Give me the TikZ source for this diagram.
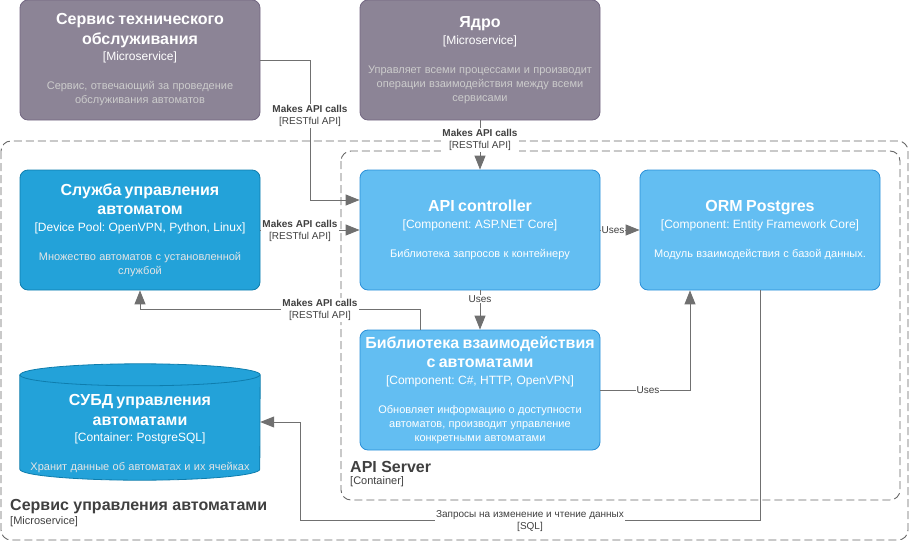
\documentclass[tikz,border=0pt]{standalone}
\usepackage{fontspec}
\setmainfont{Liberation Sans}
\usetikzlibrary{arrows.meta,positioning}
\definecolor{extfill}{HTML}{8C8496}
\definecolor{extdraw}{HTML}{736782}
\definecolor{devfill}{HTML}{23A2D9}
\definecolor{devdraw}{HTML}{0E7DAD}
\definecolor{compfill}{HTML}{63BEF2}
\definecolor{compdraw}{HTML}{2A8FD8}
\definecolor{linegray}{HTML}{707070}
\definecolor{labelgray}{HTML}{404040}
\definecolor{bordergray}{HTML}{666666}
\frenchspacing
% title, technology, description
\newcommand{\elemtext}[4][white]{{\fontsize{16}{19.5}\selectfont\bfseries #2\par}%
{\fontsize{12}{16.5}\selectfont #3\par}\vspace{15pt}%
{\fontsize{11}{14}\selectfont\color{#1}#4\par}}
\tikzset{
  element/.style={rounded corners=8pt, minimum width=240pt, minimum height=120pt,
    text width=236pt, align=center, text=white, inner sep=0pt, line width=0.8pt},
  extsys/.style={element, draw=extdraw, fill=extfill},
  devpool/.style={element, draw=devdraw, fill=devfill},
  component/.style={element, draw=compdraw, fill=compfill},
  boundary/.style={draw=bordergray, line width=0.9pt, dash pattern=on 8pt off 4pt,
    rounded corners=10pt},
  conn/.style={draw=linegray, line width=0.9pt,
    -{Triangle[length=14pt,width=11pt]}},
  lbl/.style={fill=white, text=labelgray, align=center, inner sep=1pt,
    font=\fontsize{10}{12}\selectfont}
}
\begin{document}
\begin{tikzpicture}[x=1pt, y=-1pt, node distance=10pt, on grid]
\useasboundingbox (0,0) rectangle (911,541);
% boundaries
\draw[boundary] (1,141) rectangle (908,540);
\draw[boundary] (341,151) rectangle (900,500);
\node[anchor=west, text=labelgray, inner sep=0pt, font=\fontsize{16}{19}\selectfont\bfseries]
  (svcname) at (10,507) {Сервис управления автоматами};
\node[anchor=west, text=labelgray, inner sep=0pt, font=\fontsize{11}{13}\selectfont]
  (svctype) at (10,522) {[Microservice]};
\node[anchor=west, text=labelgray, inner sep=0pt, font=\fontsize{16}{19}\selectfont\bfseries]
  (apiname) at (350,467) {API Server};
\node[anchor=west, text=labelgray, inner sep=0pt, font=\fontsize{11}{13}\selectfont]
  (apitype) at (350,482) {[Container]};

% elements
\node[extsys] (tech) at (140,60)
  {\elemtext[black!20]{Сервис технического\\обслуживания}{[Microservice]}%
  {Сервис, отвечающий за проведение\\обслуживания автоматов}};
\node[extsys] (core) [right=340pt of tech]
  {\elemtext[black!20]{Ядро}{[Microservice]}%
  {Управляет всеми процессами и производит\\операции взаимодействия между всеми\\сервисами}};
\node[component] (ctrl) [below=170pt of core]
  {\elemtext{API controller}{[Component: ASP.NET Core]}%
  {Библиотека запросов к контейнеру}};
\node[devpool] (svc) [left=340pt of ctrl]
  {\elemtext[black!10]{Служба управления\\автоматом}{[Device Pool: OpenVPN, Python, Linux]}%
  {Множество автоматов с установленной\\службой}};
\node[component] (orm) [right=280pt of ctrl]
  {\elemtext{ORM Postgres}{[Component: Entity Framework Core]}%
  {Модуль взаимодействия с базой данных.}};
\node[component] (lib) [below=160pt of ctrl]
  {\elemtext{Библиотека взаимодействия\\с автоматами}{[Component: C\#, HTTP, OpenVPN]}%
  {Обновляет информацию о доступности\\автоматов, производит управление\\конкретными автоматами}};

% database
\node[minimum width=240pt, minimum height=116pt, inner sep=0pt] (db) at (140,422) {};
\filldraw[fill=devfill, draw=devdraw, line width=0.8pt]
  ([yshift=-11pt]db.north west) -- ([yshift=11pt]db.south west)
  arc[start angle=180, end angle=360, x radius=120pt, y radius=11pt]
  -- ([yshift=-11pt]db.north east)
  arc[start angle=0, end angle=180, x radius=120pt, y radius=11pt] -- cycle;
\draw[devdraw, line width=0.8pt] ([yshift=-11pt]db.north west)
  arc[start angle=180, end angle=360, x radius=120pt, y radius=11pt];
\node[text width=236pt, align=center, text=white, inner sep=0pt] (dbtext)
  at ([yshift=-12pt]db.center)
  {{\fontsize{16}{19.5}\selectfont\bfseries СУБД управления\\автоматами\par}%
  {\fontsize{12}{16.5}\selectfont [Container: PostgreSQL]\par}\vspace{15pt}%
  {\fontsize{11}{14}\selectfont\color{black!10}Хранит данные об автоматах и их ячейках\par}};

% connectors
\draw[conn] (tech.east) -- ++(50,0) |- ([yshift=30pt]ctrl.west);
\draw[conn] (core.south) -- (ctrl.north);
\draw[conn] (svc.east) -- (ctrl.west);
\draw[conn] ([xshift=-60pt]lib.north) -- ++(0,-20) -| (svc.south);
\draw[conn] (ctrl.south) -- (lib.north);
\draw[conn] (ctrl.east) -- (orm.west);
\draw[conn] (lib.east) -| ([xshift=-70pt]orm.south);
\coordinate (sqlturn) at (300,520);
\draw[conn] (orm.south) |- (sqlturn) |- (db.east);

% connector labels
\node[lbl] (l1) at (310,116) {\textbf{Makes API calls}\\{[RESTful API]}};
\node[lbl] (l2) at (480,140) {\textbf{Makes API calls}\\{[RESTful API]}};
\node[lbl] (l3) at (300,231) {\textbf{Makes API calls}\\{[RESTful API]}};
\node[lbl] (l4) at (320,310) {\textbf{Makes API calls}\\{[RESTful API]}};
\node[lbl] (l5) at (480,299) {Uses};
\node[lbl] (l6) at (613,230) {Uses};
\node[lbl] (l7) at (648,390) {Uses};
\node[lbl] (l8) at (530,521) {Запросы на изменение и чтение данных\\{[SQL]}};
\end{tikzpicture}
\end{document}
